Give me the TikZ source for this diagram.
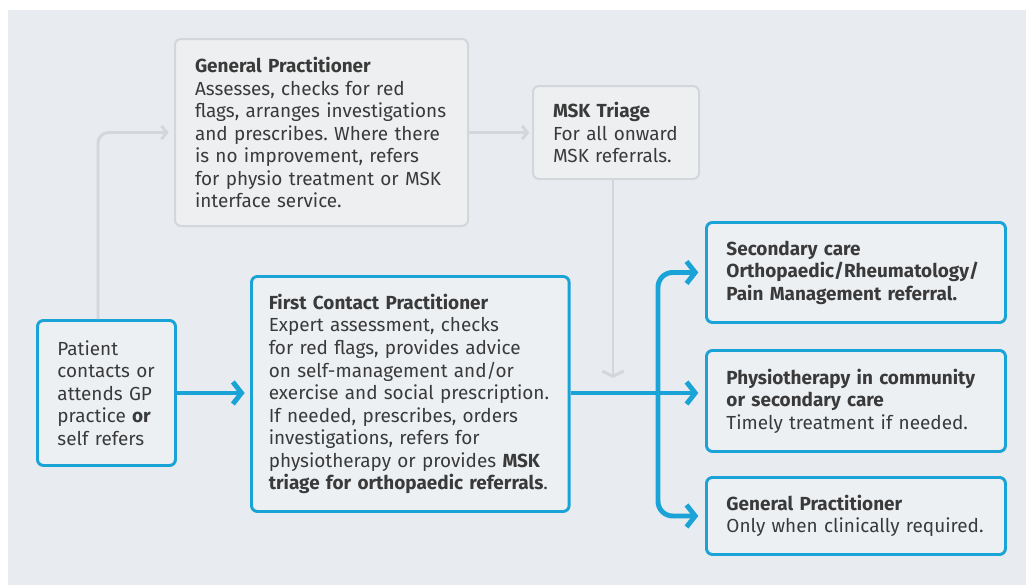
\documentclass[tikz,border=0pt]{standalone}
\usepackage{fontspec}
\setmainfont{Fira Sans}
\usetikzlibrary{arrows.meta,calc}
\hyphenpenalty=10000
\exhyphenpenalty=10000
\frenchspacing
\definecolor{bg}{HTML}{E8ECF0}
\definecolor{boxfill}{HTML}{EDF0F3}
\definecolor{nhsblue}{HTML}{1AA3D6}
\definecolor{txt}{HTML}{3A3A3A}
\definecolor{gline}{HTML}{D3D6DA}
\definecolor{gfill}{HTML}{EDEFF1}
\begin{document}
\begin{tikzpicture}[x=0.75pt,y=-0.75pt,
  txtstyle/.style={font=\fontsize{14.2}{16.9}\selectfont\frenchspacing, text=txt},
  basebox/.style={txtstyle, anchor=north west, inner xsep=15pt, inner ysep=0pt, align=left, rounded corners=4.5pt},
  bluebox/.style={basebox, draw=nhsblue, line width=2.2pt, fill=boxfill},
  greybox/.style={basebox, draw=gline, line width=1.5pt, fill=gfill},
  bluearrow/.style={draw=nhsblue, line width=3.7pt, rounded corners=11pt, -{Straight Barb[length=6.5pt,width=16.5pt]}},
  greyarrow/.style={draw=gline, line width=2.2pt, rounded corners=8pt, -{Straight Barb[length=4pt,width=10pt]}}
]
\useasboundingbox (0,0) rectangle (1026,587);
\fill[bg] (8,10) rectangle (1026,585);

% boxes
\node[greybox, text width=189.75pt, minimum height=140.25pt] (gp) at (174,38)
  {\textbf{General Practitioner}\\Assesses, checks for red\\flags, arranges investigations\\and prescribes. Where there\\is no improvement, refers\\for physio treatment or MSK\\interface service.};
\node[greybox, text width=94.5pt, minimum height=69.75pt] (msk) at (532,85)
  {\textbf{MSK Triage}\\For all onward\\MSK referrals.};
\node[bluebox, text width=73.5pt, minimum height=108.75pt] (pat) at (36,319)
  {Patient\\contacts or\\attends GP\\practice \textbf{or}\\self refers};
\node[bluebox, inner xsep=13pt, text width=212.25pt, minimum height=176.25pt] (fcp) at (250,275)
  {\textbf{First Contact Practitioner}\\Expert assessment, checks\\for red flags, provides advice\\on self-management and/or\\exercise and social prescription.\\If needed, prescribes, orders\\investigations, refers for\\physiotherapy or provides \textbf{MSK}\\\textbf{triage for orthopaedic referrals}.};
\node[bluebox, text width=194.25pt, minimum height=75pt] (sec) at (705,221)
  {\textbf{Secondary care}\\\textbf{Orthopaedic/Rheumatology/}\\\textbf{Pain Management referral.}};
\node[bluebox, text width=194.25pt, minimum height=75.75pt] (phys) at (705,349)
  {\textbf{Physiotherapy in community}\\\textbf{or secondary care}\\Timely treatment if needed.};
\node[bluebox, text width=194.25pt, minimum height=57.75pt] (gp2) at (705,476)
  {\textbf{General Practitioner}\\Only when clinically required.};

% grey connectors
\coordinate (patup) at ($(pat.north west)+(62,0)$);
\draw[greyarrow, shorten >=4pt] (patup) |- (gp.west);
\draw[greyarrow, shorten >=2pt] (gp.east) -- (msk.west);
\coordinate (trend) at (613,378);
\draw[greyarrow, -{Straight Barb[length=4pt,width=16pt]}] (msk.south -| trend) -- (trend);

% blue connectors
\draw[bluearrow, shorten >=4pt] (pat.east) -- (pat.east -| fcp.west);
\coordinate (fcpout) at (fcp.east |- 0,393);
\coordinate (junc) at (658,393);
\draw[bluearrow, shorten >=5pt] (fcpout) -- (fcpout -| phys.west);
\draw[bluearrow, shorten >=5pt] (junc) |- (sec.west);
\draw[bluearrow, shorten >=5pt] (junc) |- (gp2.west);
\end{tikzpicture}
\end{document}
